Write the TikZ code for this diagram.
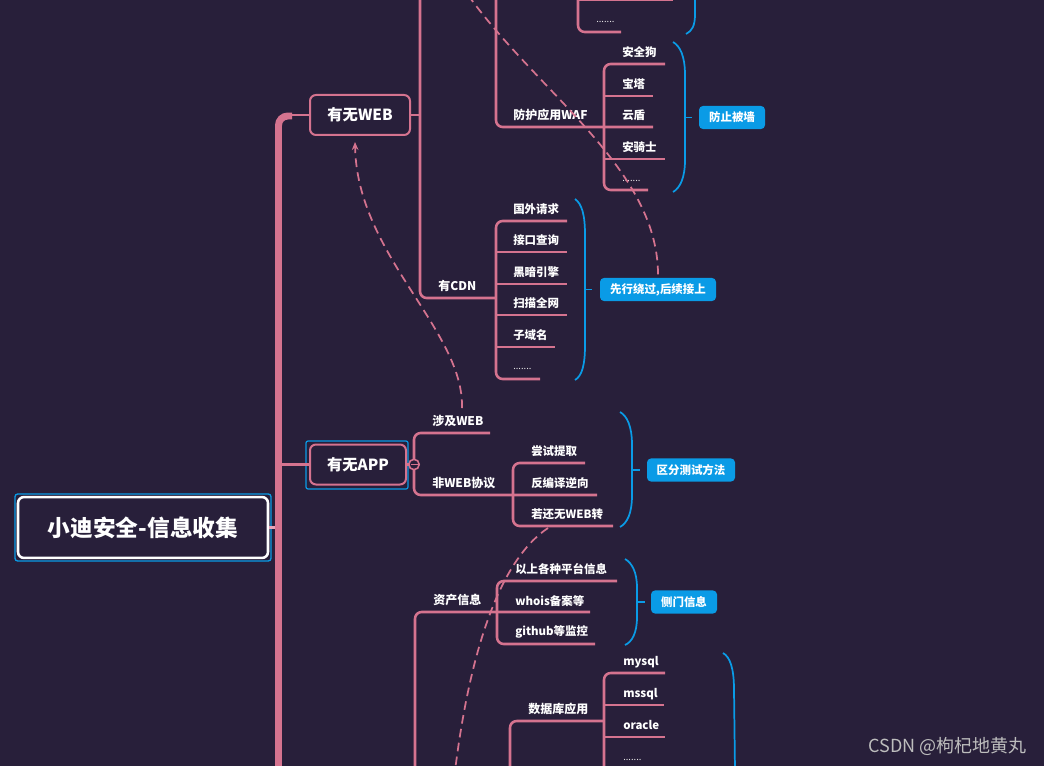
\documentclass[tikz,border=0pt]{standalone}
\usepackage{fontspec}
\setmainfont{Noto Sans CJK SC}
\usetikzlibrary{arrows.meta}
\definecolor{bg}{HTML}{281F3A}
\definecolor{pk}{HTML}{D5738F}
\definecolor{pkl}{HTML}{E8A3B8}
\definecolor{bl}{HTML}{0A9BE6}
\definecolor{wm}{HTML}{BDBDBD}
\begin{document}
\begin{tikzpicture}[x=0.75pt,y=-0.75pt,
  tl/.style={pk, line width=1.9pt, rounded corners=5pt},
  dsh/.style={pk, line width=1.3pt, dash pattern=on 6.5pt off 4pt},
  br/.style={bl, line width=1.3pt},
  lbl/.style={anchor=west, text=white, font=\bfseries\fontsize{8.6}{10}\selectfont, inner sep=0pt},
  dotl/.style={anchor=west, text=white!85!gray, font=\fontsize{7}{8}\selectfont, inner sep=0pt},
  lvl/.style={anchor=west, text=white, font=\bfseries\fontsize{9}{10}\selectfont, inner sep=0pt},
  bbox/.style={fill=bl, rounded corners=3pt, text=white, font=\bfseries\fontsize{8.6}{10}\selectfont, minimum height=17.3pt, inner sep=0pt},
  topic/.style={draw=pk, line width=1.5pt, fill=bg, rounded corners=4.5pt, text=white, font=\bfseries\fontsize{11.5}{13}\selectfont, minimum height=30pt, inner sep=0pt}
]
\fill[bg] (0,0) rectangle (1044,766);
\useasboundingbox (0,0) rectangle (1044,766);

% ---------- root ----------
\draw[bl, line width=1pt, rounded corners=2pt] (15,494) rectangle (271,561);
\node[draw=white, line width=1.9pt, fill=bg, rounded corners=4.5pt, minimum width=187.5pt, minimum height=45.7pt, inner sep=0pt, text=white, font=\bfseries\fontsize{17}{20}\selectfont] (root) at (143,527.5) {小迪安全-信息收集};
\coordinate (sp) at (278,527.5);
\draw[pkl, line width=2.4pt] (root.east) -- (sp);

% ---------- spine ----------
\draw[pk, line width=5.2pt, rounded corners=7pt] (278.5,771) -- (278.5,116) -- (292,116);

% ---------- 有无WEB ----------
\node[topic, minimum width=75pt] (web) at (360,115) {有无WEB};
\draw[pk, line width=2.2pt] (290,115) -- (web.west);
\coordinate (wv) at (420,115);
\draw[tl] (web.east) -- (wv);
\draw[tl] (420,-5) -- (420,298) -- (496,298);
\node[lvl] (cdn) at (438,286) {有CDN};

% top remnants
\draw[tl] (578,0) -- (673,0);
\draw[tl] (578,-5) -- (578,32) -- (621,32);
\node[dotl] (dots0) at (596,22) {.......};
\draw[br] (695,-5) -- (695,14) .. controls (695,26) and (692,31) .. (686,34);

% WAF
\draw[tl] (496,-5) -- (496,127) -- (653,127);
\node[lvl] (waf) at (513,115) {防护应用WAF};
\draw[tl] (665,64) -- (604,64) -- (604,190) -- (648,190);
\draw[tl] (604,96) -- (653,96);
\draw[tl] (604,159) -- (665,159);
\node[lbl] (w1) at (622,52) {安全狗};
\node[lbl] (w2) at (622,84) {宝塔};
\node[lbl] (w3) at (622,115) {云盾};
\node[lbl] (w4) at (622,147) {安骑士};
\node[dotl] (w5) at (622,181) {.......};
\draw[br] (673,42) .. controls (680,46) and (685,56) .. (685,75) -- (685,160) .. controls (685,178) and (680,188) .. (673,192);
\node[bbox, minimum width=49.5pt] (fz) at (732,117.5) {防止被墙};
\draw[br] (685,117.5) -- (692,117.5);

% CDN children
\draw[tl] (567,221) -- (496,221) -- (496,379) -- (540,379);
\draw[tl] (496,252) -- (567,252);
\draw[tl] (496,284) -- (567,284);
\draw[tl] (496,315) -- (567,315);
\draw[tl] (496,347) -- (555,347);
\node[lbl] (c1) at (513,209) {国外请求};
\node[lbl] (c2) at (513,240) {接口查询};
\node[lbl] (c3) at (513,272) {黑暗引擎};
\node[lbl] (c4) at (513,303) {扫描全网};
\node[lbl] (c5) at (513,335) {子域名};
\node[dotl] (c6) at (513,369) {.......};
\draw[br] (575,199) .. controls (582,204) and (585,215) .. (585,235) -- (585,345) .. controls (585,365) and (582,376) .. (575,380);
\node[bbox, minimum width=87pt] (xx) at (658,289.5) {先行绕过,后续接上};
\draw[br] (585,289.5) -- (592,289.5);

% ---------- 有无APP ----------
\draw[bl, line width=0.9pt, rounded corners=1.5pt] (306,441) rectangle (408,489);
\node[topic, minimum width=72pt] (app) at (358,464.5) {有无APP};
\draw[tl] (278,464.5) -- (app.west);
\coordinate (ac) at (414,464.5);
\draw[tl] (app.east) -- (ac);
\draw[tl] (490,433) -- (414,433) -- (414,495) -- (597,495);
\filldraw[pk, fill=bg, line width=1.2pt] (ac) circle[radius=5.2];
\draw[pk, line width=1pt] (410.5,464.5) -- (417.5,464.5);
\node[lvl] (sj) at (432,421) {涉及WEB};
\node[lvl] (fw) at (432,483) {非WEB协议};
\draw[tl] (585,463) -- (513,463) -- (513,526) -- (613,526);
\node[lbl] (a1) at (531,451) {尝试提取};
\node[lbl] (a2) at (531,483) {反编译逆向};
\node[lbl] (a3) at (531,514) {若还无WEB转};
\draw[br] (620,412) .. controls (627,416) and (632,426) .. (632,445) -- (632,495) .. controls (632,514) and (627,523) .. (620,527);
\node[bbox, minimum width=66pt] (qf) at (691,470) {区分测试方法};
\draw[br] (632,470) -- (640,470);

% ---------- 资产信息 ----------
\draw[tl] (415,771) -- (415,612) -- (590,612);
\node[lvl] (zc) at (433,600) {资产信息};
\draw[tl] (617,581) -- (497,581) -- (497,644) -- (595,644);
\node[lbl] (z1) at (515,569) {以上各种平台信息};
\node[lbl] (z2) at (515,601) {whois备案等};
\node[lbl] (z3) at (515,632) {github等监控};
\draw[br] (625,559) .. controls (632,563) and (637,572) .. (637,588) -- (637,617) .. controls (637,633) and (632,642) .. (625,645);
\node[bbox, minimum width=49.5pt] (cm) at (684,602) {侧门信息};
\draw[br] (637,602) -- (645,602);

% ---------- 数据库应用 ----------
\draw[tl] (510,771) -- (510,721) -- (604,721);
\node[lvl] (db) at (528,709) {数据库应用};
\draw[tl] (665,673) -- (604,673) -- (604,771);
\draw[tl] (604,705) -- (664,705);
\draw[tl] (604,737) -- (665,737);
\node[lbl] (d1) at (623,662) {mysql};
\node[lbl] (d2) at (623,694) {mssql};
\node[lbl] (d3) at (623,725) {oracle};
\node[dotl] (d4) at (623,760) {.......};
\draw[br] (723,653) .. controls (730,657) and (734,668) .. (734,690) -- (735,771);

% ---------- dashed relations ----------
\draw[dsh, -{Stealth[length=6pt,width=5pt]}] (462,408) .. controls (464,330) and (357,255) .. (355,142);
\draw[dsh] (468,-5) .. controls (540,95) and (660,170) .. (xx.north);
\draw[dsh] (548,528) .. controls (500,560) and (470,650) .. (455,771);

% watermark
\node[anchor=east, text=wm, font=\fontsize{13.5}{15}\selectfont, inner sep=0pt] (wmk) at (1027,746) {CSDN @枸杞地黄丸};
\end{tikzpicture}
\end{document}
